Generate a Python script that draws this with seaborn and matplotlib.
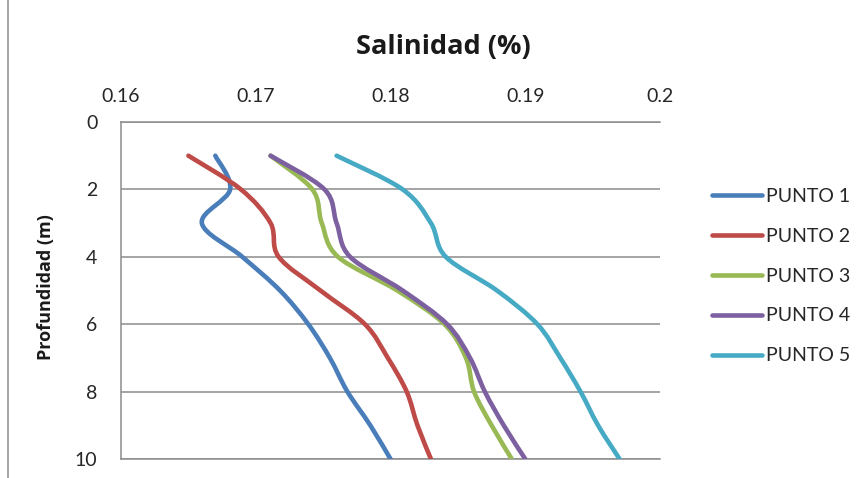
import numpy as np
import pandas as pd
import matplotlib
matplotlib.use("Agg")
import matplotlib.pyplot as plt
import seaborn as sns
from matplotlib.path import Path
from matplotlib.patches import PathPatch, Rectangle

# Salinity profiles (%) by depth (m) at five sampling points
profundidad = [1, 2, 3, 4, 5, 6, 7, 8, 9, 10]
punto_1 = [0.1670, 0.1681, 0.1660, 0.1690, 0.1718, 0.1739, 0.1755, 0.1768, 0.1785, 0.1800]
punto_2 = [0.1650, 0.1689, 0.1711, 0.1717, 0.1748, 0.1781, 0.1798, 0.1812, 0.1820, 0.1830]
punto_3 = [0.1711, 0.1742, 0.1749, 0.1761, 0.1805, 0.1840, 0.1856, 0.1862, 0.1875, 0.1890]
punto_4 = [0.1711, 0.1751, 0.1760, 0.1770, 0.1809, 0.1842, 0.1859, 0.1870, 0.1884, 0.1900]
punto_5 = [0.1760, 0.1809, 0.1830, 0.1841, 0.1879, 0.1909, 0.1926, 0.1941, 0.1954, 0.1970]

series_names = ["PUNTO 1", "PUNTO 2", "PUNTO 3", "PUNTO 4", "PUNTO 5"]
series_values = [punto_1, punto_2, punto_3, punto_4, punto_5]
colors = ["#4A7EBB", "#BE4B48", "#98B954", "#7D60A0", "#46AAC5"]

x_ticks = [0.16, 0.17, 0.18, 0.19, 0.2]
x_tick_labels = ["0.16", "0.17", "0.18", "0.19", "0.2"]
y_ticks = [0, 2, 4, 6, 8, 10]

df = pd.concat(
    [pd.DataFrame({"salinidad": v, "profundidad": profundidad, "punto": n})
     for n, v in zip(series_names, series_values)],
    ignore_index=True,
)

sns.set_theme(style="white")
plt.rcParams["font.family"] = ["Lato", "DejaVu Sans"]

W, H = 868, 478
fig = plt.figure(figsize=(W / 100, H / 100), dpi=100)
fig.patch.set_facecolor("white")

# outer chart frame
fig.patches.append(Rectangle((8 / W, -0.2), 1.2, 1.2 + (1 - 11 / H), transform=fig.transFigure,
                             fill=False, edgecolor="#A6A6A6", lw=1.4, zorder=0))

ax = fig.add_axes([121 / W, 1 - 459 / H, (660 - 121) / W, (459 - 122) / H])

LW = 3.3
sns.lineplot(data=df, x="salinidad", y="profundidad", hue="punto", palette=colors,
             sort=False, estimator=None, orient="y", lw=LW, ax=ax, legend=True)

# replace the straight segments with smoothed (Catmull-Rom / Bezier) curves through the same points
for ln in list(ax.lines):
    ln.set_visible(False)


def smooth_path(xs, ys):
    pts = np.column_stack([xs, ys]).astype(float)
    n = len(pts)
    verts = [pts[0]]
    codes = [Path.MOVETO]
    for i in range(n - 1):
        p0 = pts[i - 1] if i > 0 else pts[i]
        p1 = pts[i]
        p2 = pts[i + 1]
        p3 = pts[i + 2] if i + 2 < n else pts[i + 1]
        verts += [p1 + (p2 - p0) / 6, p2 - (p3 - p1) / 6, p2]
        codes += [Path.CURVE4] * 3
    return Path(verts, codes)


for vals, c in zip(series_values, colors):
    ax.add_patch(PathPatch(smooth_path(vals, profundidad), facecolor="none", edgecolor=c,
                           lw=LW, capstyle="round", joinstyle="round", zorder=3))

ax.set_xlim(0.16, 0.2)
ax.set_ylim(10, 0)
ax.xaxis.tick_top()
ax.set_xticks(x_ticks)
ax.set_xticklabels(x_tick_labels)
ax.set_yticks(y_ticks)
ax.tick_params(axis="x", length=0, pad=12, labelsize=14, colors="#262626")
ax.tick_params(axis="y", length=0, pad=17, labelsize=14, colors="#262626")
ax.set_xlabel("")
ax.set_ylabel("")

ax.grid(axis="y", color="#8C8C8C", lw=1.1)
ax.grid(axis="x", visible=False)
for side in ["left", "top", "bottom"]:
    ax.spines[side].set_visible(True)
    ax.spines[side].set_color("#8C8C8C")
    ax.spines[side].set_linewidth(1.1)
ax.spines["right"].set_visible(False)

fig.text(443 / W, 1 - 47 / H, "Salinidad (%)", ha="center", va="center",
         fontsize=19.5, fontweight="bold", color="#1a1a1a", family=["Open Sans", "DejaVu Sans"])
fig.text(46 / W, 1 - 287 / H, "Profundidad (m)", ha="center", va="center",
         rotation=90, fontsize=13, fontweight="bold", color="#1a1a1a",
         family=["Open Sans", "DejaVu Sans"])

sns.move_legend(ax, "center left", bbox_to_anchor=(704 / W, 1 - 276 / H),
                bbox_transform=fig.transFigure, frameon=False, title=None,
                fontsize=14, handlelength=2.6, handletextpad=0.2, labelspacing=1.18,
                borderaxespad=0)
for h in ax.get_legend().legend_handles:
    h.set_linewidth(LW)
    h.set_solid_capstyle("round")

fig.savefig("out.png", dpi=100)
